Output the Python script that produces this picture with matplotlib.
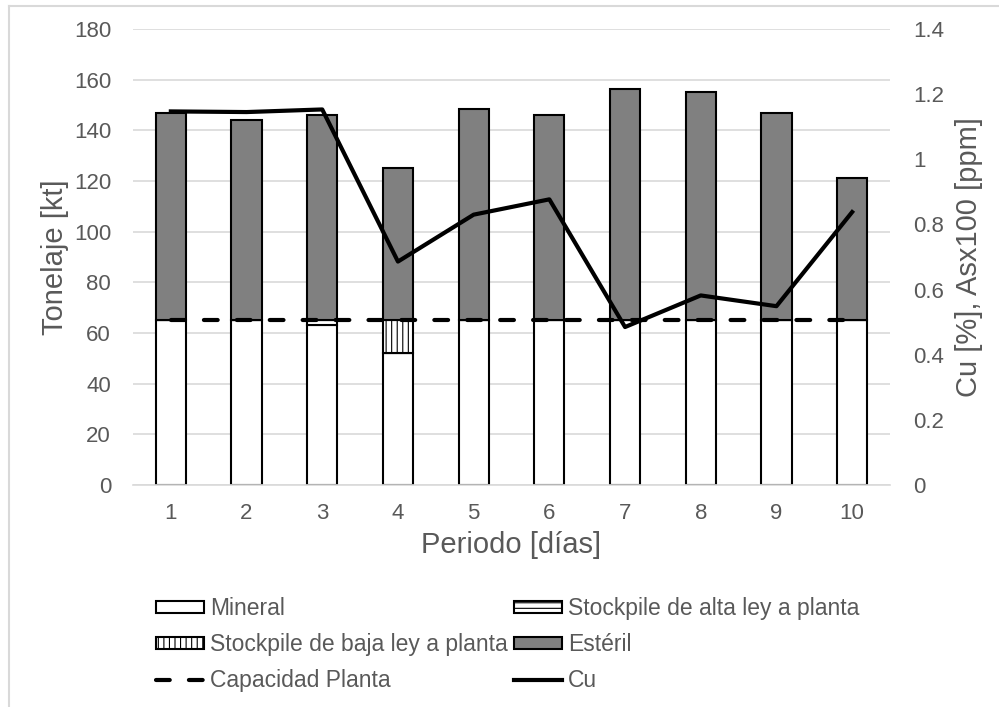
import matplotlib
matplotlib.use("Agg")
import matplotlib.pyplot as plt
from matplotlib.lines import Line2D
from matplotlib.ticker import MultipleLocator, FuncFormatter

plt.rcParams['font.family'] = ['Liberation Sans', 'DejaVu Sans']
plt.rcParams['hatch.linewidth'] = 0.8

# Data per period
periodos = [1, 2, 3, 4, 5, 6, 7, 8, 9, 10]
mineral = [65, 65, 63.3, 52, 65, 65, 65, 65, 65, 65]
stock_alta = [0, 0, 1.7, 0, 0, 0, 0, 0, 0, 0]
stock_baja = [0, 0, 0, 13, 0, 0, 0, 0, 0, 0]
esteril = [82, 79, 81, 60.2, 83.5, 81, 91.5, 90.3, 81.7, 56]
capacidad = [65, 65, 65, 65, 65, 65, 65, 65, 65, 65]
cu = [1.147, 1.145, 1.153, 0.686, 0.830, 0.877, 0.485, 0.582, 0.549, 0.838]

gray_txt = '#595959'
grid_c = '#D9D9D9'
tick_fs = 16
label_fs = 21
legend_fs = 16.5
cap_dashes = (3.3, 4.6)

W, H = 999, 707
fig = plt.figure(figsize=(W / 100, H / 100), dpi=100)
ax = fig.add_axes([133 / W, 1 - 485 / H, (890 - 133) / W, (485 - 29) / H])
ax2 = ax.twinx()

w = 0.4
b1 = ax.bar(periodos, mineral, w, color='white', edgecolor='black', linewidth=1.5, zorder=2)
bot = list(mineral)
b2 = ax.bar(periodos, stock_alta, w, bottom=bot, color='white', edgecolor='black',
            linewidth=1.5, hatch='---', zorder=2)
bot = [a + b for a, b in zip(bot, stock_alta)]
b3 = ax.bar(periodos, stock_baja, w, bottom=bot, color='white', edgecolor='black',
            linewidth=1.5, hatch='|||', zorder=2)
bot = [a + b for a, b in zip(bot, stock_baja)]
b4 = ax.bar(periodos, esteril, w, bottom=bot, color='#808080', edgecolor='black',
            linewidth=1.5, zorder=2)

cap_line, = ax.plot(periodos, capacidad, color='black', linewidth=3,
                    dashes=cap_dashes, dash_capstyle='round', zorder=3)
cu_line, = ax2.plot(periodos, cu, color='black', linewidth=3, zorder=4)

ax.set_xlim(0.5, 10.5)
ax.set_ylim(0, 180)
ax2.set_ylim(0, 1.4)
ax.yaxis.set_major_locator(MultipleLocator(20))
ax2.yaxis.set_major_locator(MultipleLocator(0.2))
ax2.yaxis.set_major_formatter(FuncFormatter(lambda v, p: f"{round(v, 1):g}"))
ax.set_xticks(periodos)
ax.set_xticklabels([str(p) for p in periodos])

ax.grid(axis='y', color=grid_c, linewidth=1.2, zorder=0)
ax.set_axisbelow(True)
for a in (ax, ax2):
    for s in ('top', 'left', 'right', 'bottom'):
        a.spines[s].set_visible(False)
    a.tick_params(length=0, labelsize=tick_fs, colors=gray_txt)
ax.spines['bottom'].set_visible(True)
ax.spines['bottom'].set_color(grid_c)
ax.spines['bottom'].set_linewidth(1.2)
ax.tick_params(axis='y', pad=15.8)
ax.tick_params(axis='x', pad=13)
ax2.tick_params(axis='y', pad=16.5)

ax.set_ylabel('Tonelaje [kt]', fontsize=label_fs, color=gray_txt)
ax.yaxis.set_label_coords(-0.085, 0.5)
ax2.set_ylabel('Cu [%], Asx100 [ppm]', fontsize=label_fs, color=gray_txt)
ax2.yaxis.set_label_coords(1.086, 0.5)
ax.set_xlabel('Periodo [días]', fontsize=label_fs, color=gray_txt)
ax.xaxis.set_label_coords(0.5, -0.101)

leg_kw = dict(loc='upper left', frameon=False, fontsize=legend_fs,
              handlelength=2.1, handleheight=0.45, handletextpad=0.25,
              labelspacing=0.56, borderpad=0, borderaxespad=0)
cap_handle = Line2D([], [], color='black', linewidth=3, dashes=cap_dashes,
                    dash_capstyle='round')
cu_handle = Line2D([], [], color='black', linewidth=3)
leg1 = fig.legend([b1, b3, cap_handle],
                  ['Mineral', 'Stockpile de baja ley a planta', 'Capacidad Planta'],
                  bbox_to_anchor=(156 / W, 1 - 597 / H), **leg_kw)
leg2 = fig.legend([b2, b4, cu_handle],
                  ['Stockpile de alta ley a planta', 'Estéril', 'Cu'],
                  bbox_to_anchor=(514 / W, 1 - 597 / H), **leg_kw)
for lg in (leg1, leg2):
    for t in lg.get_texts():
        t.set_color(gray_txt)

# chart-area frame (left and top edges)
fig.add_artist(Line2D([9 / W, 9 / W], [0, 1 - 6 / H], transform=fig.transFigure,
                      color=grid_c, linewidth=1.5))
fig.add_artist(Line2D([9 / W, 1], [1 - 6 / H, 1 - 6 / H], transform=fig.transFigure,
                      color=grid_c, linewidth=1.5))

fig.savefig('out.png', dpi=100)
